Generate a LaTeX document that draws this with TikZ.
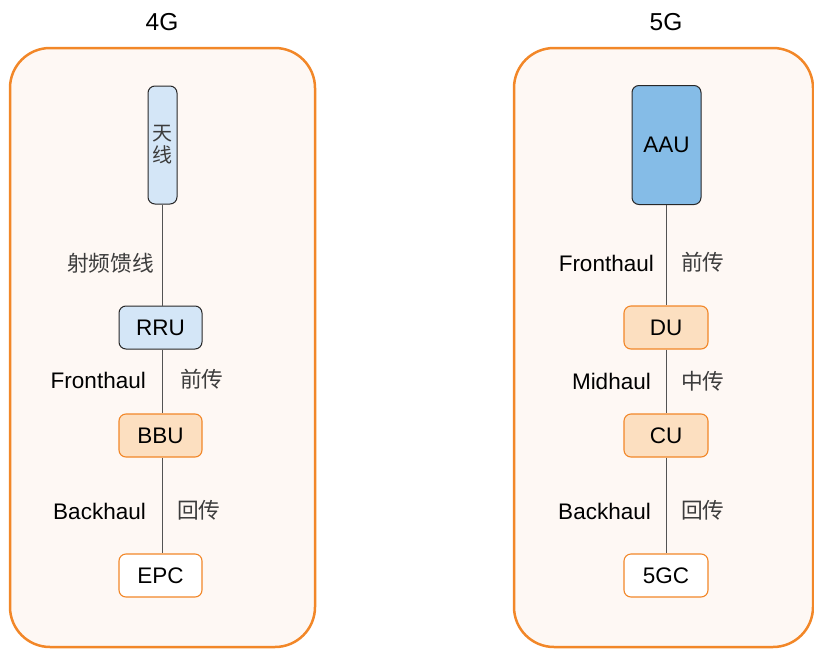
\documentclass[tikz,border=0pt]{standalone}
\usepackage{fontspec}
\setmainfont{Liberation Sans}
\newfontfamily\cjk{Noto Sans CJK SC}
\usetikzlibrary{positioning}
\definecolor{panelfill}{RGB}{254,248,244}
\definecolor{panelline}{RGB}{242,135,40}
\definecolor{lightblue}{RGB}{212,230,247}
\definecolor{midblue}{RGB}{133,188,231}
\definecolor{peach}{RGB}{252,223,192}
\definecolor{darkline}{RGB}{40,40,40}
\definecolor{cjkgray}{RGB}{60,60,60}
\tikzset{
  panel/.style={draw=panelline, fill=panelfill, line width=2.5pt, rounded corners=40pt},
  unit/.style={rounded corners=7pt, line width=1pt, minimum width=83pt, minimum height=43pt,
    inner sep=0pt, font=\fontsize{22.5}{25}\selectfont},
  bluebox/.style={unit, draw=darkline, fill=lightblue},
  aaubox/.style={unit, draw=darkline, fill=midblue},
  orangebox/.style={unit, draw=panelline, fill=peach, line width=1.1pt},
  corebox/.style={unit, draw=panelline, fill=white, line width=1.1pt},
  link/.style={draw=darkline!80, line width=0.8pt},
  enlabel/.style={inner sep=0pt, anchor=east, font=\fontsize{22.5}{25}\selectfont},
  cnlabel/.style={inner sep=0pt, anchor=west, text=cjkgray, font=\cjk\fontsize{21.7}{24}\selectfont},
  title/.style={inner sep=0pt, font=\fontsize{24.5}{27}\selectfont},
}
\begin{document}
\begin{tikzpicture}[x=1pt, y=-1pt]
\useasboundingbox (0,0) rectangle (814,648);

% two panels
\draw[panel] (10,48) rectangle (315,647);
\draw[panel] (514,48) rectangle (813,647);
\node[title] (t4) at (162,22) {4G};
\node[title] (t5) at (666,22) {5G};

% 4G chain
\node[bluebox, minimum width=29pt, minimum height=118pt, align=center,
      text=cjkgray, font=\cjk\fontsize{20}{22}\selectfont] (ant) at (162.5,145) {天\\线};
\node[bluebox] (rru) at (160.5,327.5) {RRU};
\node[orangebox] (bbu) at (160.5,435.5) {BBU};
\node[corebox] (epc) at (160.5,575.5) {EPC};
\draw[link] (ant.south) -- (ant.south |- rru.north);
\draw[link] (ant.south |- rru.south) -- (ant.south |- bbu.north);
\draw[link] (ant.south |- bbu.south) -- (ant.south |- epc.north);

\node[cnlabel, anchor=east, text=cjkgray] (feed) at (154,263) {射频馈线};
\node[enlabel] (fh4) at (146,380) {Fronthaul};
\node[cnlabel] (qc4) at (180,379) {前传};
\node[enlabel] (bh4) at (146,511) {Backhaul};
\node[cnlabel] (hc4) at (177,510) {回传};

% 5G chain
\node[aaubox, minimum width=69pt, minimum height=119pt] (aau) at (666.5,145) {AAU};
\node[orangebox, minimum width=84pt] (du) at (666,327.5) {DU};
\node[orangebox, minimum width=84pt] (cu) at (666,435.5) {CU};
\node[corebox, minimum width=84pt] (gc) at (666,575.5) {5GC};
\draw[link] (du.north |- aau.south) -- (du.north);
\draw[link] (du.south) -- (cu.north);
\draw[link] (cu.south) -- (gc.north);

\node[enlabel] (fh5) at (654,263) {Fronthaul};
\node[cnlabel] (qc5) at (681,262) {前传};
\node[enlabel] (mh5) at (651,381) {Midhaul};
\node[cnlabel] (zc5) at (681,381) {中传};
\node[enlabel] (bh5) at (651,511) {Backhaul};
\node[cnlabel] (hc5) at (681,510) {回传};
\end{tikzpicture}
\end{document}
